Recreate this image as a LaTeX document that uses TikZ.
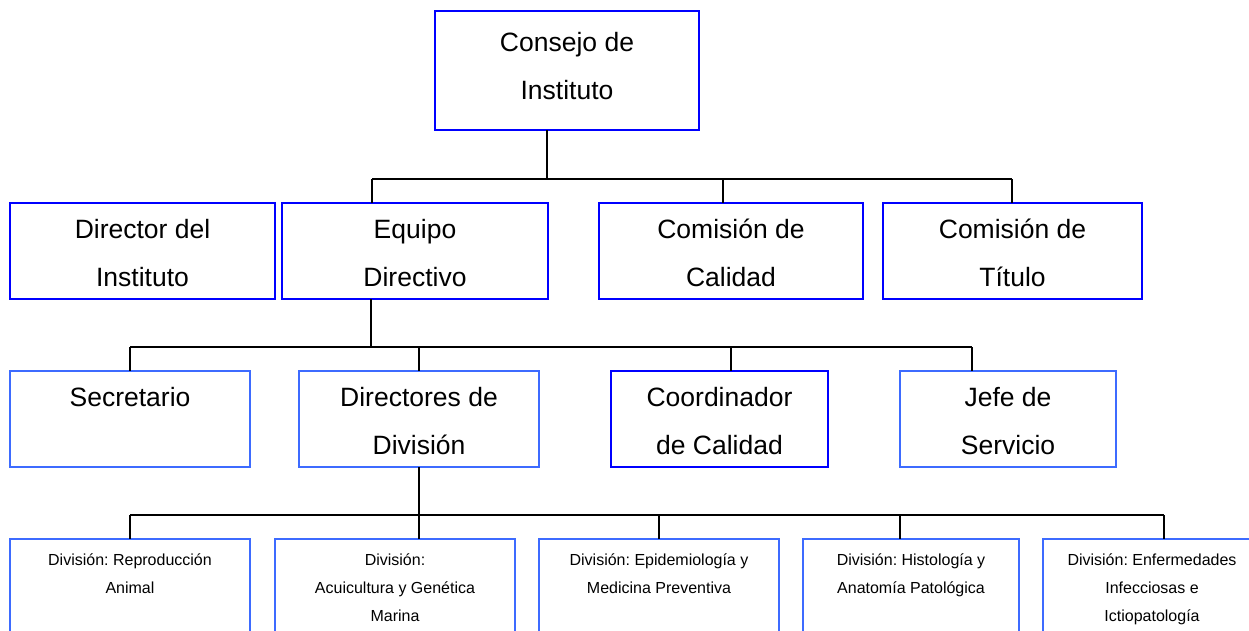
\documentclass[tikz,border=0pt]{standalone}
\usepackage{fontspec}
\setmainfont{Liberation Sans}
\frenchspacing
\definecolor{bA}{HTML}{0000FF}
\definecolor{bB}{HTML}{3D6BFF}
\tikzset{
  box/.style={draw=#1, line width=1.8pt, inner sep=0pt, outer sep=0pt, anchor=north west},
  link/.style={draw=black, line width=1.5pt},
}
\newcommand{\bigtext}[4]{\parbox[c][#1][t]{#2}{\centering\fontsize{26.5}{48}\selectfont\rule{0pt}{#3}#4}}
\newcommand{\smalltext}[3]{\parbox[c][#1][t]{#2}{\centering\fontsize{16}{28}\selectfont\rule{0pt}{26pt}#3}}
\begin{document}
\begin{tikzpicture}[x=1pt,y=-1pt]
\clip (0,0) rectangle (1249,630);
\fill[white] (0,0) rectangle (1249,630);
% level 1
\node[box=bA] (top) at (435,11) {\bigtext{119pt}{264pt}{40pt}{Consejo de\\Instituto}};
% level 2
\node[box=bA] (dir) at (10,203) {\bigtext{96pt}{265pt}{35pt}{Director del\\Instituto}};
\node[box=bA] (eq) at (282,203) {\bigtext{96pt}{266pt}{35pt}{Equipo\\Directivo}};
\node[box=bA] (cal) at (599,203) {\bigtext{96pt}{264pt}{35pt}{Comisión de\\Calidad}};
\node[box=bA] (tit) at (883,203) {\bigtext{96pt}{259pt}{35pt}{Comisión de\\Título}};
% level 3
\node[box=bB] (sec) at (10,371) {\bigtext{96pt}{240pt}{35pt}{Secretario}};
\node[box=bB] (dirs) at (299,371) {\bigtext{96pt}{240pt}{35pt}{Directores de\\División}};
\node[box=bA] (coord) at (611,371) {\bigtext{96pt}{217pt}{35pt}{Coordinador\\de Calidad}};
\node[box=bB] (jefe) at (900,371) {\bigtext{96pt}{216pt}{35pt}{Jefe de\\Servicio}};
% level 4
\node[box=bB] (d1) at (10,539) {\smalltext{110pt}{240pt}{División: Reproducción\\Animal}};
\node[box=bB] (d2) at (275,539) {\smalltext{110pt}{240pt}{División:\\Acuicultura y Genética\\Marina}};
\node[box=bB] (d3) at (539,539) {\smalltext{110pt}{240pt}{División: Epidemiología y\\Medicina Preventiva}};
\node[box=bB] (d4) at (803,539) {\smalltext{110pt}{216pt}{División: Histología y\\Anatomía Patológica}};
\node[box=bB] (d5) at (1043,539) {\smalltext{110pt}{218pt}{División: Enfermedades\\Infecciosas e\\Ictiopatología}};
% connectors level 1 -> 2
\coordinate (j0) at (547,179);
\coordinate (j1) at (372,179);
\coordinate (j2) at (723,179);
\coordinate (j3) at (1012,179);
\draw[link] (top.south -| j0) -- (j0);
\draw[link] (j1) -- (j3);
\draw[link] (j1) -- (eq.north -| j1);
\draw[link] (j2) -- (cal.north -| j2);
\draw[link] (j3) -- (tit.north -| j3);
% connectors level 2 -> 3
\coordinate (k0) at (371,347);
\coordinate (k1) at (130,347);
\coordinate (k2) at (419,347);
\coordinate (k3) at (731,347);
\coordinate (k4) at (972,347);
\draw[link] (eq.south -| k0) -- (k0);
\draw[link] (k1) -- (k4);
\draw[link] (k1) -- (sec.north -| k1);
\draw[link] (k2) -- (dirs.north -| k2);
\draw[link] (k3) -- (coord.north -| k3);
\draw[link] (k4) -- (jefe.north -| k4);
% connectors level 3 -> 4
\coordinate (m1) at (130,515);
\coordinate (m2) at (419,515);
\coordinate (m3) at (659,515);
\coordinate (m4) at (900,515);
\coordinate (m5) at (1164,515);
\draw[link] (dirs.south -| m2) -- (m2);
\draw[link] (m1) -- (m5);
\draw[link] (m1) -- (d1.north -| m1);
\draw[link] (m2) -- (d2.north -| m2);
\draw[link] (m3) -- (d3.north -| m3);
\draw[link] (m4) -- (d4.north -| m4);
\draw[link] (m5) -- (d5.north -| m5);
\end{tikzpicture}
\end{document}
